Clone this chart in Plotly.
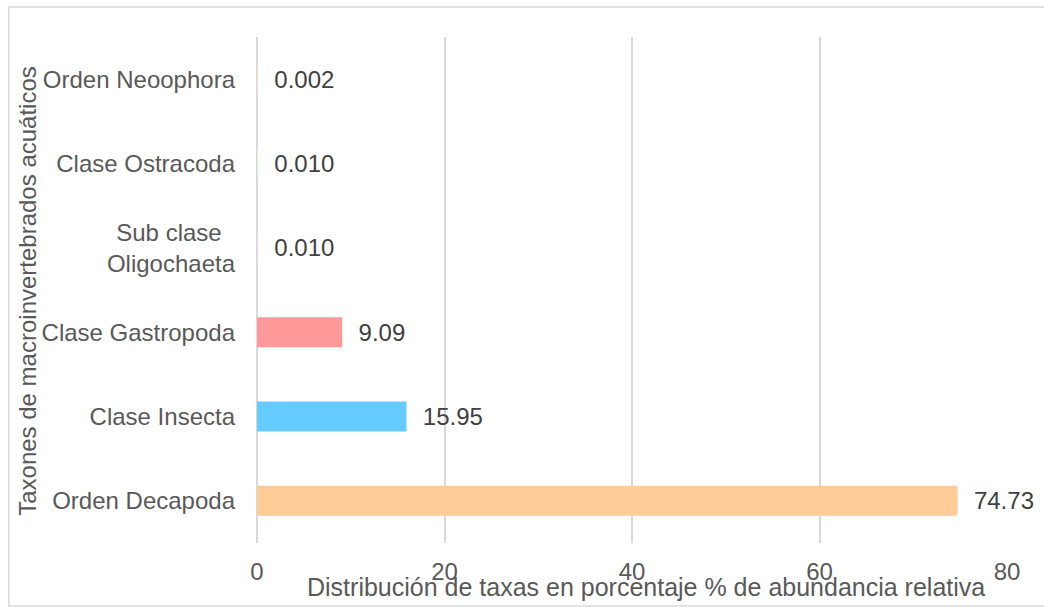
import plotly.graph_objects as go

# Taxa, bottom to top as drawn on the category axis
taxa = [
    "Orden Decapoda",
    "Clase Insecta",
    "Clase Gastropoda",
    "Sub clase\u00a0\u00a0<br>Oligochaeta",
    "Clase Ostracoda",
    "Orden Neoophora",
]
abundance_pct = [74.73, 15.95, 9.09, 0.010, 0.010, 0.002]
bar_colors = ["#FFCC99", "#66CCFF", "#FF9999", "#E6D6F0", "#DDEFD2", "#FBE0CC"]

x_ticks = [0, 20, 40, 60, 80]
x_title = "Distribución de taxas en porcentaje % de abundancia relativa"
y_title = "Taxones de macroinvertebrados acuáticos"

FONT = "Liberation Sans, Arial, sans-serif"
TEXT = "#595959"
GRID = "#D9D9D9"


def fmt(v):
    return f"{v:.3f}" if v < 1 else f"{v:.2f}"


labels = ["\u00a0\u00a0" + fmt(v) for v in abundance_pct]

fig = go.Figure(
    go.Bar(
        x=abundance_pct,
        y=taxa,
        orientation="h",
        marker=dict(color=bar_colors, line=dict(width=0)),
        width=0.356,
        text=labels,
        textposition="outside",
        constraintext="none",
        cliponaxis=False,
        outsidetextfont=dict(family=FONT, size=24, color="#404040"),
        hoverinfo="skip",
    )
)

W, H = 1044, 607
L, R, T, B = 256.5, 36.5, 37, 64
pw, ph = W - L - R, H - T - B


def px_x(p):
    return (p - L) / pw


def px_y(p):
    return (H - B - p) / ph


fig.update_layout(
    width=W,
    height=H,
    margin=dict(l=L, r=R, t=T, b=B, pad=0),
    paper_bgcolor="white",
    plot_bgcolor="white",
    showlegend=False,
    font=dict(family=FONT, size=24, color=TEXT),
    xaxis=dict(
        range=[0, 80],
        tickvals=x_ticks,
        ticktext=[str(t) for t in x_ticks],
        showgrid=True,
        gridcolor=GRID,
        gridwidth=1.5,
        zeroline=True,
        zerolinecolor=GRID,
        zerolinewidth=1.5,
        showline=False,
        ticks="",
        ticklabelstandoff=12,
        tickfont=dict(family=FONT, size=24, color=TEXT),
        fixedrange=True,
    ),
    yaxis=dict(
        type="category",
        categoryorder="array",
        categoryarray=taxa,
        showgrid=False,
        zeroline=False,
        showline=False,
        ticks="",
        ticklabelstandoff=21,
        tickfont=dict(family=FONT, size=24, color=TEXT),
        fixedrange=True,
    ),
    shapes=[
        dict(
            type="rect",
            xref="paper",
            yref="paper",
            x0=px_x(8),
            x1=px_x(1060),
            y0=px_y(606),
            y1=px_y(7),
            line=dict(color=GRID, width=1.5),
            fillcolor="rgba(0,0,0,0)",
            layer="below",
        )
    ],
    annotations=[
        dict(
            text=x_title,
            xref="paper",
            yref="paper",
            x=px_x(646.5),
            y=px_y(587),
            xanchor="center",
            yanchor="middle",
            showarrow=False,
            font=dict(family=FONT, size=25, color=TEXT),
        ),
        dict(
            text=y_title,
            xref="paper",
            yref="paper",
            x=px_x(26),
            y=px_y(291),
            xanchor="center",
            yanchor="middle",
            textangle=-90,
            showarrow=False,
            font=dict(family=FONT, size=24, color=TEXT),
        ),
    ],
)

fig.write_html("out.html", config={"displayModeBar": False})
